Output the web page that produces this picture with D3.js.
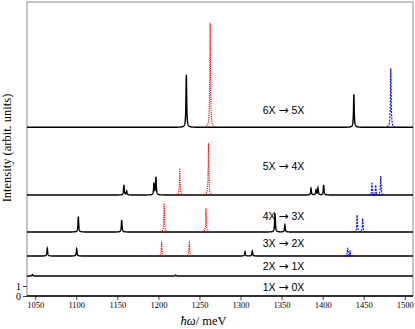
<!DOCTYPE html>
<html>
<head>
<meta charset="utf-8">
<script src="https://cdn.jsdelivr.net/npm/d3@7"></script>
<style>
  body { margin: 0; background: #fff; }
  svg text { fill: #000; }
</style>
</head>
<body>
<svg id="chart" width="415" height="329"></svg>
<script>
// transition labels, vertical offsets of each trace, and where the label sits (data units)
var fromLabels  = ["6X", "5X", "4X", "3X", "2X", "1X"];
var toLabels    = ["5X", "4X", "3X", "2X", "1X", "0X"];
var offsets     = [16.87, 10.1, 6.4, 4.0, 2.0, 0];
var labelY      = [18.6, 13.0, 8.0, 5.3, 3.0, 0.9];
var labelX      = 1327;

// peak positions (meV) and heights per trace
var blackPos = [[1234, 1438],
                [1158, 1161.4, 1194.6, 1197, 1385.8, 1391.9, 1394.3, 1401.2],
                [1102.5, 1155.3, 1342, 1354],
                [1064.7, 1100.5, 1305.4, 1314.3],
                [1046.5, 1221],
                []];
var blackH   = [[5.26, 3.3],
                [1.0, 0.4, 1.17, 1.77, 0.66, 0.5, 0.72, 1.0],
                [1.53, 1.2, 1.87, 0.7],
                [0.77, 0.7, 0.43, 0.5],
                [0.15, 0.1],
                []];
var redPos   = [[1263], [1226, 1261], [1207, 1258], [1204, 1237.6], [], []];
var redH     = [[10.46], [2.67, 5.23], [2.87, 2.37], [1.37, 1.37], [], []];
var bluePos  = [[1483], [1460, 1464.6, 1470.7], [1442, 1448.7], [1430.5, 1433.3], [], []];
var blueH    = [[5.9], [1.15, 1.0, 1.9], [1.7, 1.37], [0.77, 0.53], [], []];

var xTicks = [1050, 1100, 1150, 1200, 1250, 1300, 1350, 1400, 1450, 1500];
var yTicks = [0, 1];

var W = 415, H = 329;
var margin = {top: 2, right: 2, bottom: 33, left: 27};
var width = W - margin.left - margin.right;
var height = H - margin.top - margin.bottom;

var svg = d3.select("#chart");
var g = svg.append("g").attr("transform", "translate(" + margin.left + "," + margin.top + ")");

var x = d3.scaleLinear().domain([1040, 1510]).range([0, width]);
var y = d3.scaleLinear().domain([0, 29.4]).range([height, 0]);

var gamma = 0.5;
function lor(e, pos, hs) {
  var s = 0;
  for (var i = 0; i < pos.length; i++) {
    var d = e - pos[i];
    if (Math.abs(d) < 15) s += hs[i] * gamma * gamma / (d * d + gamma * gamma);
  }
  return s;
}

var line = d3.line().x(function(d) { return x(d[0]); }).y(function(d) { return y(d[1]); });

// frame
g.append("rect").attr("x", 0).attr("y", 0).attr("width", width).attr("height", height)
  .attr("fill", "none").attr("stroke", "#8a8a8a").attr("stroke-width", 1);

// axes
var xAxis = d3.axisBottom(x).tickValues(xTicks).tickSize(4).tickPadding(2).tickFormat(d3.format("d"));
var xMinor = d3.axisBottom(x).tickValues(d3.range(1040, 1511, 10)).tickSize(2.5).tickFormat("");
var gx = g.append("g").attr("transform", "translate(0," + height + ")");
gx.call(xMinor);
gx.call(xAxis);
g.selectAll(".domain").remove();
gx.selectAll("line").attr("stroke", "#444");
gx.selectAll("text").attr("font-family", "'Liberation Serif', serif").attr("font-size", "8.5px");

var gy = g.append("g").call(d3.axisLeft(y).tickValues(yTicks).tickSize(4).tickPadding(2));
gy.select(".domain").remove();
gy.selectAll("line").attr("stroke", "#444");
gy.selectAll("text").attr("font-family", "'Liberation Serif', serif").attr("font-size", "10px");

// spectra
fromLabels.forEach(function(t, k) {
  var pts = [];
  for (var e = 1040; e <= 1510.001; e += 0.1) {
    pts.push([e, offsets[k] + lor(e, blackPos[k], blackH[k])]);
  }
  g.append("path").datum(pts).attr("d", line)
    .attr("fill", "none").attr("stroke", "#000").attr("stroke-width", 1.4);

  function colored(pos, hs, color, dash) {
    pos.forEach(function(p, i) {
      var seg = [];
      for (var e = p - 5; e <= p + 5.001; e += 0.05) {
        seg.push([e, offsets[k] + hs[i] * gamma * gamma / ((e - p) * (e - p) + gamma * gamma)]);
      }
      g.append("path").datum(seg).attr("d", line)
        .attr("fill", "none").attr("stroke", color).attr("stroke-width", 1.1)
        .attr("stroke-dasharray", dash);
    });
  }
  colored(redPos[k], redH[k], "#ff0000", "1.2,1");
  colored(bluePos[k], blueH[k], "#0000ff", "2,1.2");

  var lab = g.append("text").attr("x", x(labelX)).attr("y", y(labelY[k]))
    .attr("dy", "0.35em")
    .attr("font-family", "'Liberation Sans', Arial, sans-serif").attr("font-size", "10.5px");
  lab.append("tspan").text(t + " ");
  lab.append("tspan").attr("font-family", "'DejaVu Sans', sans-serif").attr("font-size", "12px").text("\u2192");
  lab.append("tspan").text(" " + toLabels[k]);
});

// axis titles
var xt = svg.append("text").attr("x", margin.left + x(1255)).attr("y", 325)
  .attr("text-anchor", "middle").attr("font-family", "'Liberation Serif', serif").attr("font-size", "12.5px");
xt.append("tspan").attr("font-style", "italic").text("\u0127\u03c9");
xt.append("tspan").text("/ meV");

svg.append("text").attr("transform", "translate(11,148) rotate(-90)")
  .attr("text-anchor", "middle").attr("font-family", "'Liberation Serif', serif").attr("font-size", "12.5px")
  .text("Intensity (arbit. units)");
</script>
</body>
</html>
